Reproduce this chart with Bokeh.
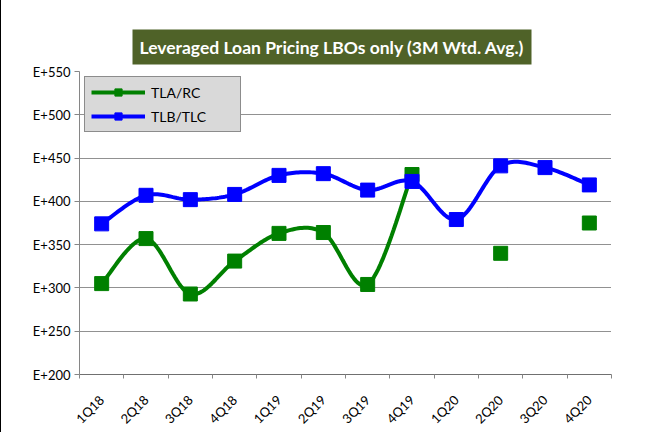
import numpy as np
from bokeh.plotting import figure
from bokeh.models import FixedTicker, Legend, LegendItem, ColumnDataSource, Title, InlineStyleSheet
from bokeh.embed import file_html
from bokeh.resources import INLINE

categories = ["1Q18", "2Q18", "3Q18", "4Q18", "1Q19", "2Q19", "3Q19", "4Q19",
              "1Q20", "2Q20", "3Q20", "4Q20"]
tla_rc = [305, 357, 293, 331, 363, 364, 304, 431, None, 340, None, 375]
tlb_tlc = [374, 407, 402, 408, 430, 432, 413, 423, 379, 441, 439, 419]
y_ticks = [200, 250, 300, 350, 400, 450, 500, 550]
title_text = "Leveraged Loan Pricing LBOs only (3M Wtd. Avg.)"

GREEN = "#008000"
BLUE = "#0000FF"
FONT = "Lato"

xs = np.arange(len(categories)) + 0.5


def smooth(x, y, steps=24):
    n = len(x)
    if n < 2:
        return [], []
    ox, oy = [], []
    for i in range(n - 1):
        p0 = np.array([x[max(i - 1, 0)], y[max(i - 1, 0)]], float)
        p1 = np.array([x[i], y[i]], float)
        p2 = np.array([x[i + 1], y[i + 1]], float)
        p3 = np.array([x[min(i + 2, n - 1)], y[min(i + 2, n - 1)]], float)
        c1 = p1 + (p2 - p0) / 6.0
        c2 = p2 - (p3 - p1) / 6.0
        t = np.linspace(0, 1, steps)[:, None]
        pts = ((1 - t) ** 3) * p1 + 3 * ((1 - t) ** 2) * t * c1 + 3 * (1 - t) * t ** 2 * c2 + t ** 3 * p2
        if i > 0:
            pts = pts[1:]
        ox.extend(pts[:, 0].tolist())
        oy.extend(pts[:, 1].tolist())
    return ox, oy


def runs(x, y):
    segs, cx, cy = [], [], []
    for a, b in zip(x, y):
        if b is None:
            if cx:
                segs.append((cx, cy))
            cx, cy = [], []
        else:
            cx.append(a)
            cy.append(b)
    if cx:
        segs.append((cx, cy))
    return segs


p = figure(width=631, height=425, output_backend="svg", toolbar_location=None,
           x_range=(0, len(categories)), y_range=(y_ticks[0], y_ticks[-1]),
           frame_width=532, frame_height=303,
           min_border_left=78, min_border_top=76, min_border_right=21, min_border_bottom=46)
p.outline_line_color = None
p.background_fill_color = "white"
p.border_fill_color = "white"
p.stylesheets = [InlineStyleSheet(css=":host { margin-left: 1px; margin-top: -5px; "
                                      "box-shadow: -3px -3px 0 0 #000000; }")]

# title box
p.title = Title(text=title_text, align="left", offset=53, standoff=14,
                text_color="white", text_font=FONT, text_font_style="bold",
                text_font_size="17.5px", background_fill_color="#4F6228",
                background_fill_alpha=1, padding=7)

# grid
p.xgrid.grid_line_color = None
p.ygrid.grid_line_color = "#222222"
p.ygrid.grid_line_dash = "1 1"
p.ygrid.grid_line_width = 1

# y axis
p.yaxis.ticker = FixedTicker(ticks=y_ticks)
p.yaxis.major_label_overrides = {v: f"E+{v}" for v in y_ticks}
p.yaxis.axis_line_color = "#868686"
p.yaxis.major_tick_line_color = "#868686"
p.yaxis.major_tick_out = 5
p.yaxis.major_tick_in = 0
p.yaxis.minor_tick_line_color = None
p.yaxis.major_label_text_font = FONT
p.yaxis.major_label_text_font_size = "13px"
p.yaxis.major_label_text_color = "black"
p.yaxis.major_label_standoff = 4

# x axis
p.xaxis.ticker = FixedTicker(ticks=xs.tolist(), minor_ticks=list(range(len(categories) + 1)))
p.xaxis.major_label_overrides = {float(x): c for x, c in zip(xs, categories)}
p.xaxis.major_label_orientation = np.pi / 4
p.xaxis.axis_line_color = "#707070"
p.xaxis.major_tick_line_color = None
p.xaxis.minor_tick_line_color = "#868686"
p.xaxis.minor_tick_out = 4
p.xaxis.minor_tick_in = 0
p.xaxis.major_label_text_font = FONT
p.xaxis.major_label_text_font_size = "13px"
p.xaxis.major_label_text_color = "black"
p.xaxis.major_label_standoff = 17

# TLA/RC
for sx, sy in runs(xs.tolist(), tla_rc):
    if len(sx) > 1:
        lx, ly = smooth(sx, sy)
        p.line(lx, ly, line_color=GREEN, line_width=4)
ga_x = [x for x, v in zip(xs, tla_rc) if v is not None]
ga_y = [v for v in tla_rc if v is not None]
p.scatter(ga_x, ga_y, marker="square", size=14, fill_color=GREEN, line_color=GREEN)

# TLB/TLC
lx, ly = smooth(xs.tolist(), tlb_tlc)
p.line(lx, ly, line_color=BLUE, line_width=4)
p.scatter(xs, tlb_tlc, marker="square", size=14, fill_color=BLUE, line_color=BLUE)

# legend (hidden renderers for custom glyph size)
dummy = ColumnDataSource(data=dict(x=[np.nan], y=[np.nan]))
gl = p.line("x", "y", source=dummy, line_color=GREEN, line_width=4)
gs = p.scatter("x", "y", source=dummy, marker="square", size=9, fill_color=GREEN, line_color=GREEN)
bl = p.line("x", "y", source=dummy, line_color=BLUE, line_width=4)
bs = p.scatter("x", "y", source=dummy, marker="square", size=9, fill_color=BLUE, line_color=BLUE)
legend = Legend(items=[LegendItem(label="TLA/RC", renderers=[gl, gs]),
                       LegendItem(label="TLB/TLC", renderers=[bl, bs])],
                location=(5, 303 - 7 - 54))
legend.background_fill_color = "#D9D9D9"
legend.background_fill_alpha = 1
legend.border_line_color = "#404040"
legend.border_line_width = 1
legend.padding = 6
legend.spacing = 6
legend.margin = 0
legend.glyph_width = 54
legend.glyph_height = 18
legend.label_height = 18
legend.label_width = 83
legend.label_standoff = 6
legend.label_text_font = FONT
legend.label_text_font_size = "14px"
legend.label_text_color = "black"
p.add_layout(legend, "center")

open("out.html", "w").write(file_html(p, INLINE))
